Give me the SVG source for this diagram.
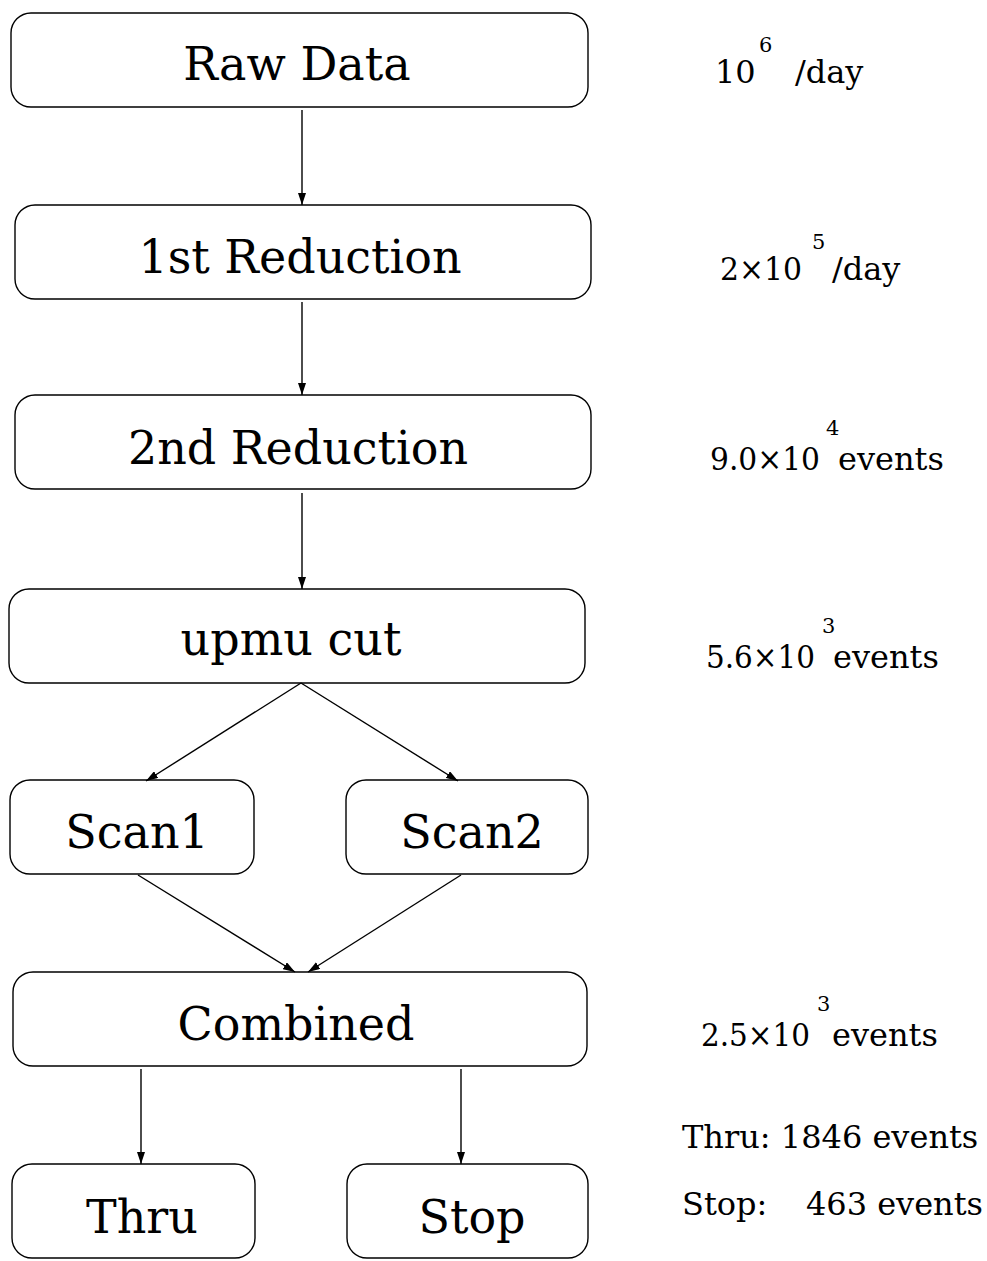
<svg xmlns="http://www.w3.org/2000/svg" width="987" height="1261" viewBox="0 0 987 1261">
  <style>
    .box { fill: #ffffff; stroke: #000000; stroke-width: 1.4; }
    .label { font-family: "DejaVu Serif", "Liberation Serif", serif; font-size: 46px; fill: #000000; text-anchor: middle; }
    .rate { font-family: "DejaVu Serif", "Liberation Serif", serif; font-size: 32px; fill: #000000; }
    .exp { font-size: 21px; }
    .edge { fill: none; stroke: #000000; stroke-width: 1.4; marker-end: url(#arrow); }
  </style>
  <defs>
    <marker id="arrow" markerUnits="userSpaceOnUse" markerWidth="12" markerHeight="8" refX="12" refY="4" orient="auto">
      <path d="M0,0 L12,4 L0,8 z" fill="#000000"/>
    </marker>
  </defs>
  <rect width="987" height="1261" fill="#ffffff"/>

  <!-- processing stages -->
  <g id="raw-data">
    <rect class="box" x="11" y="13" width="577" height="94" rx="20"/>
    <text class="label" x="297" y="80">Raw Data</text>
  </g>
  <g id="first-reduction">
    <rect class="box" x="15" y="205" width="576" height="94" rx="20"/>
    <text class="label" x="300" y="273">1st Reduction</text>
  </g>
  <g id="second-reduction">
    <rect class="box" x="15" y="395" width="576" height="94" rx="20"/>
    <text class="label" x="298" y="464">2nd Reduction</text>
  </g>
  <g id="upmu-cut">
    <rect class="box" x="9" y="589" width="576" height="94" rx="20"/>
    <text class="label" x="291" y="655">upmu cut</text>
  </g>
  <g id="scan1">
    <rect class="box" x="10" y="780" width="244" height="94" rx="20"/>
    <text class="label" x="137" y="848">Scan1</text>
  </g>
  <g id="scan2">
    <rect class="box" x="346" y="780" width="242" height="94" rx="20"/>
    <text class="label" x="472" y="848">Scan2</text>
  </g>
  <g id="combined">
    <rect class="box" x="13" y="972" width="574" height="94" rx="20"/>
    <text class="label" x="296" y="1040">Combined</text>
  </g>
  <g id="thru">
    <rect class="box" x="12" y="1164" width="243" height="94" rx="20"/>
    <text class="label" x="142" y="1233">Thru</text>
  </g>
  <g id="stop">
    <rect class="box" x="347" y="1164" width="241" height="94" rx="20"/>
    <text class="label" x="472" y="1233">Stop</text>
  </g>

  <!-- flow connectors -->
  <g id="connectors">
    <line class="edge" x1="302" y1="110" x2="302" y2="205"/>
    <line class="edge" x1="302" y1="302" x2="302" y2="395"/>
    <line class="edge" x1="302" y1="493" x2="302" y2="589"/>
    <line class="edge" x1="301" y1="683" x2="146" y2="781"/>
    <line class="edge" x1="301" y1="683" x2="458" y2="781"/>
    <line class="edge" x1="138" y1="875" x2="295" y2="972"/>
    <line class="edge" x1="461" y1="875" x2="308" y2="972"/>
    <line class="edge" x1="141" y1="1069" x2="141" y2="1164"/>
    <line class="edge" x1="461" y1="1069" x2="461" y2="1164"/>
  </g>

  <!-- event counts per stage: base text, raised exponent, unit -->
  <g id="rates">
    <text class="rate"><tspan x="715" y="83">10</tspan><tspan class="exp" x="759" y="52">6</tspan><tspan x="795" y="83">/day</tspan></text>
    <text class="rate"><tspan x="720" y="280" textLength="82" lengthAdjust="spacingAndGlyphs">2×10</tspan><tspan class="exp" x="812" y="249">5</tspan><tspan x="832" y="280">/day</tspan></text>
    <text class="rate"><tspan x="710" y="470" textLength="110" lengthAdjust="spacingAndGlyphs">9.0×10</tspan><tspan class="exp" x="826" y="435">4</tspan><tspan x="838" y="470">events</tspan></text>
    <text class="rate"><tspan x="706" y="668" textLength="109" lengthAdjust="spacingAndGlyphs">5.6×10</tspan><tspan class="exp" x="822" y="633">3</tspan><tspan x="833" y="668">events</tspan></text>
    <text class="rate"><tspan x="701" y="1046" textLength="109" lengthAdjust="spacingAndGlyphs">2.5×10</tspan><tspan class="exp" x="817" y="1011">3</tspan><tspan x="832" y="1046">events</tspan></text>
    <text class="rate" x="682" y="1148">Thru: 1846 events</text>
    <text class="rate" y="1215"><tspan x="682">Stop:</tspan><tspan x="983" text-anchor="end">463 events</tspan></text>
  </g>
</svg>
